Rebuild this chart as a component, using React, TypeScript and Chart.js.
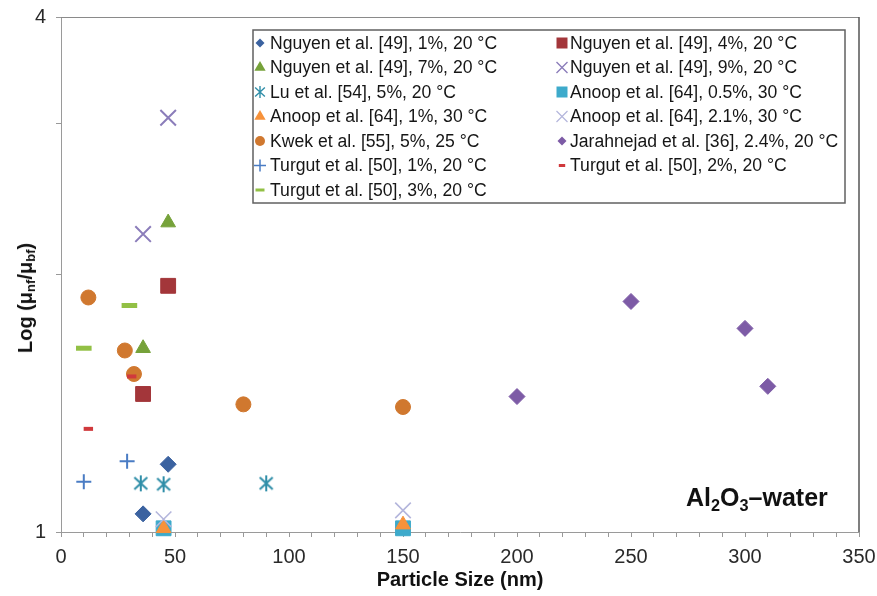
import React, { useEffect, useRef } from 'react';
import { Chart, registerables } from 'chart.js';

Chart.register(...registerables);

const FONT = '"Liberation Sans", Arial, Helvetica, sans-serif';

// ---- axis ranges / ticks ----
const X_MIN = 0;
const X_MAX = 350;
const X_MINOR_STEP = 10;
const X_LABEL_EVERY = 50;
const Y_MIN = 1;
const Y_MAX = 4;
const Y_TICKS = [1, 2, 3, 4];
const Y_LABELED_TICKS = [1, 4];

// ---- series labels ----
const seriesLabels = [
  'Nguyen et al. [49], 1%, 20 °C',
  'Nguyen et al. [49], 4%, 20 °C',
  'Nguyen et al. [49], 7%, 20 °C',
  'Nguyen et al. [49], 9%, 20 °C',
  'Lu et al. [54], 5%, 20 °C',
  'Anoop et al. [64], 0.5%, 30 °C',
  'Anoop et al. [64], 1%, 30 °C',
  'Anoop et al. [64], 2.1%, 30 °C',
  'Kwek et al. [55], 5%, 25 °C',
  'Jarahnejad et al. [36], 2.4%, 20 °C',
  'Turgut et al. [50], 1%, 20 °C',
  'Turgut et al. [50], 2%, 20 °C',
  'Turgut et al. [50], 3%, 20 °C',
];

// ---- series values (particle size nm, viscosity ratio) ----
const nguyen1X = [36, 47];
const nguyen1Y = [1.05, 1.2];
const nguyen4X = [47, 36];
const nguyen4Y = [1.94, 1.45];
const nguyen7X = [47, 36];
const nguyen7Y = [2.3, 1.64];
const nguyen9X = [47, 36];
const nguyen9Y = [3.05, 2.23];
const luX = [35, 45, 90];
const luY = [1.14, 1.137, 1.14];
const anoop05X = [45, 150];
const anoop05Y = [1.01, 1.01];
const anoop1X = [45, 150];
const anoop1Y = [1.01, 1.02];
const anoop21X = [45, 150];
const anoop21Y = [1.035, 1.06];
const kwekX = [12, 28, 32, 80, 150];
const kwekY = [1.88, 1.63, 1.53, 1.41, 1.4];
const jarahX = [200, 250, 300, 310];
const jarahY = [1.44, 1.86, 1.73, 1.48];
const turgut1X = [10, 29];
const turgut1Y = [1.145, 1.21];
const turgut2X = [12, 31];
const turgut2Y = [1.32, 1.52];
const turgut3X = [10, 30];
const turgut3Y = [1.64, 1.84];

const seriesX = [nguyen1X, nguyen4X, nguyen7X, nguyen9X, luX, anoop05X, anoop1X, anoop21X, kwekX, jarahX, turgut1X, turgut2X, turgut3X];
const seriesY = [nguyen1Y, nguyen4Y, nguyen7Y, nguyen9Y, luY, anoop05Y, anoop1Y, anoop21Y, kwekY, jarahY, turgut1Y, turgut2Y, turgut3Y];

// ---- styles ----
type Kind = 'diamond' | 'square' | 'triangle' | 'x' | 'asterisk' | 'circle' | 'plus' | 'dash';
interface Sty { kind: Kind; color: string; size: number; lw?: number; lsize: number; llw?: number; }
const styles: Sty[] = [
  { kind: 'diamond', color: '#3B62A0', size: 8, lsize: 4.5 },
  { kind: 'square', color: '#A3363A', size: 10.5, lsize: 5.5 },
  { kind: 'triangle', color: '#76A23A', size: 8.5, lsize: 6.5 },
  { kind: 'x', color: '#8B7DBA', size: 11, lw: 2, lsize: 5.5, llw: 1.4 },
  { kind: 'asterisk', color: '#2F8EA8', size: 1, lw: 2, lsize: 0.75, llw: 1.4 },
  { kind: 'square', color: '#3DAACB', size: 10.5, lsize: 5.5 },
  { kind: 'triangle', color: '#F7923A', size: 8.5, lsize: 6.5 },
  { kind: 'x', color: '#B4B6DC', size: 11, lw: 1.6, lsize: 5.5, llw: 1.2 },
  { kind: 'circle', color: '#D0782F', size: 7.5, lsize: 5 },
  { kind: 'diamond', color: '#7D5BA6', size: 8, lsize: 4.5 },
  { kind: 'plus', color: '#4A7CC4', size: 7.5, lw: 2, lsize: 6, llw: 1.5 },
  { kind: 'dash', color: '#D0393C', size: 4.7, lw: 4, lsize: 3.2, llw: 3 },
  { kind: 'dash', color: '#92C045', size: 7.8, lw: 5, lsize: 4.5, llw: 3 },
];

function makeAsterisk(color: string, lw: number): HTMLCanvasElement {
  const c = document.createElement('canvas');
  c.width = 16;
  c.height = 18;
  const g = c.getContext('2d')!;
  g.strokeStyle = color;
  g.lineWidth = lw;
  g.lineCap = 'butt';
  const cx = 8, cy = 9;
  g.beginPath();
  g.moveTo(cx, cy - 8); g.lineTo(cx, cy + 8);
  g.moveTo(cx - 6.5, cy - 6); g.lineTo(cx + 6.5, cy + 6);
  g.moveTo(cx + 6.5, cy - 6); g.lineTo(cx - 6.5, cy + 6);
  g.stroke();
  return c;
}

function drawLegendMarker(ctx: CanvasRenderingContext2D, s: Sty, x: number, y: number) {
  const r = s.lsize;
  ctx.save();
  ctx.fillStyle = s.color;
  ctx.strokeStyle = s.color;
  ctx.lineWidth = s.llw || 1;
  ctx.beginPath();
  switch (s.kind) {
    case 'diamond':
      ctx.moveTo(x, y - r); ctx.lineTo(x + r, y); ctx.lineTo(x, y + r); ctx.lineTo(x - r, y); ctx.closePath(); ctx.fill();
      break;
    case 'square':
      ctx.rect(x - r, y - r, 2 * r, 2 * r); ctx.fill();
      break;
    case 'triangle':
      ctx.moveTo(x, y - r); ctx.lineTo(x + r * 0.866, y + r * 0.5); ctx.lineTo(x - r * 0.866, y + r * 0.5); ctx.closePath(); ctx.fill();
      break;
    case 'circle':
      ctx.arc(x, y, r, 0, Math.PI * 2); ctx.fill();
      break;
    case 'x':
      ctx.moveTo(x - r, y - r); ctx.lineTo(x + r, y + r); ctx.moveTo(x + r, y - r); ctx.lineTo(x - r, y + r); ctx.stroke();
      break;
    case 'plus':
      ctx.moveTo(x - r, y); ctx.lineTo(x + r, y); ctx.moveTo(x, y - r); ctx.lineTo(x, y + r); ctx.stroke();
      break;
    case 'asterisk': {
      const k = r;
      ctx.moveTo(x, y - 8 * k); ctx.lineTo(x, y + 8 * k);
      ctx.moveTo(x - 6.5 * k, y - 6 * k); ctx.lineTo(x + 6.5 * k, y + 6 * k);
      ctx.moveTo(x + 6.5 * k, y - 6 * k); ctx.lineTo(x - 6.5 * k, y + 6 * k);
      ctx.stroke();
      break;
    }
    case 'dash':
      ctx.rect(x - r, y - (s.llw || 3) / 2, 2 * r, s.llw || 3); ctx.fill();
      break;
  }
  ctx.restore();
}

const framePlugin = {
  id: 'frame',
  beforeDatasetsDraw(chart: any) {
    const { ctx, chartArea: a } = chart;
    ctx.save();
    ctx.lineWidth = 1;
    ctx.strokeStyle = '#8a8a8a';
    ctx.beginPath();
    ctx.moveTo(a.left, a.top + 0.5);
    ctx.lineTo(a.right, a.top + 0.5);
    ctx.stroke();
    ctx.strokeStyle = '#555';
    ctx.lineWidth = 1.5;
    ctx.beginPath();
    ctx.moveTo(a.right, a.top);
    ctx.lineTo(a.right, a.bottom);
    ctx.stroke();
    ctx.restore();
  },
};

const legendPlugin = {
  id: 'boxLegend',
  afterDraw(chart: any) {
    const ctx: CanvasRenderingContext2D = chart.ctx;
    const left = 253, top = 30, right = 845, bottom = 203;
    ctx.save();
    ctx.fillStyle = '#ffffff';
    ctx.fillRect(left, top, right - left, bottom - top);
    ctx.strokeStyle = '#606060';
    ctx.lineWidth = 1.5;
    ctx.strokeRect(left, top, right - left, bottom - top);
    ctx.font = '17.6px ' + FONT;
    ctx.textBaseline = 'middle';
    ctx.textAlign = 'left';
    seriesLabels.forEach((label, i) => {
      const col = i % 2;
      const row = Math.floor(i / 2);
      const y = 43 + row * 24.5;
      const mx = col ? 562 : 260;
      const tx = col ? 570 : 270;
      drawLegendMarker(ctx, styles[i], mx, y);
      ctx.fillStyle = '#161616';
      ctx.fillText(label, tx, y + 1);
    });
    ctx.restore();
  },
};

export default function App() {
  const ref = useRef<HTMLCanvasElement | null>(null);

  useEffect(() => {
    if (!ref.current) return;
    const datasets = seriesLabels.map((label, i) => {
      const s = styles[i];
      const data = seriesX[i].map((x, j) => ({ x, y: seriesY[i][j] }));
      const base: any = {
        label,
        data,
        order: -i,
        clip: false,
        backgroundColor: s.color,
        borderColor: s.color,
        borderWidth: 1,
        pointRadius: s.size,
        pointHoverRadius: s.size,
      };
      switch (s.kind) {
        case 'diamond': base.pointStyle = 'rectRot'; break;
        case 'square': base.pointStyle = 'rect'; break;
        case 'triangle': base.pointStyle = 'triangle'; break;
        case 'circle': base.pointStyle = 'circle'; break;
        case 'x': base.pointStyle = 'crossRot'; base.borderWidth = s.lw; break;
        case 'plus': base.pointStyle = 'cross'; base.borderWidth = s.lw; break;
        case 'dash': base.pointStyle = 'line'; base.borderWidth = s.lw; break;
        case 'asterisk': base.pointStyle = makeAsterisk(s.color, s.lw || 2); break;
      }
      return base;
    });

    const chart = new Chart(ref.current, {
      type: 'scatter',
      data: { datasets },
      plugins: [framePlugin, legendPlugin],
      options: {
        animation: false,
        responsive: false,
        maintainAspectRatio: false,
        layout: { padding: { top: 17, right: 18, left: 0, bottom: 0 } },
        plugins: { legend: { display: false }, tooltip: { enabled: false } },
        scales: {
          x: {
            type: 'linear',
            min: X_MIN,
            max: X_MAX,
            afterFit: (scale: any) => {
              scale.height = 64;
              scale.paddingLeft = 0;
              scale.paddingRight = 0;
            },
            grid: { display: true, drawOnChartArea: false, drawTicks: true, tickLength: 5, color: '#999' },
            border: { display: true, color: '#9a9a9a', width: 1 },
            ticks: {
              stepSize: X_MINOR_STEP,
              autoSkip: false,
              maxRotation: 0,
              padding: 8,
              color: '#2a2a2a',
              font: { size: 20, family: FONT },
              callback: (v: any) => (Number(v) % X_LABEL_EVERY === 0 ? String(v) : ''),
            },
            title: {
              display: true,
              text: 'Particle Size (nm)',
              color: '#111',
              font: { size: 20, weight: 'bold', family: FONT },
              padding: { top: 0, bottom: 4 },
            },
          },
          y: {
            type: 'logarithmic',
            min: Y_MIN,
            max: Y_MAX,
            afterBuildTicks: (scale: any) => {
              scale.ticks = Y_TICKS.map((v) => ({ value: v }));
            },
            afterFit: (scale: any) => {
              scale.width = 61;
              scale.paddingTop = 0;
              scale.paddingBottom = 0;
            },
            grid: { display: true, drawOnChartArea: false, drawTicks: true, tickLength: 5, color: '#999' },
            border: { display: true, color: '#9a9a9a', width: 1 },
            ticks: {
              autoSkip: false,
              padding: 10,
              color: '#2a2a2a',
              font: { size: 20, family: FONT },
              callback: (v: any) => (Y_LABELED_TICKS.includes(Number(v)) ? String(v) : ''),
            },
          },
        },
      } as any,
    });
    return () => chart.destroy();
  }, []);

  return (
    <div style={{ position: 'absolute', left: 0, top: 0, width: 877, height: 596, background: '#fff', overflow: 'hidden' }}>
      <canvas ref={ref} width={877} height={596} style={{ position: 'absolute', left: 0, top: 0, width: 877, height: 596 }} />
      <div
        style={{
          position: 'absolute',
          left: 25,
          top: 298,
          transform: 'translate(-50%, -50%) rotate(-90deg)',
          whiteSpace: 'nowrap',
          fontFamily: FONT,
          fontWeight: 'bold',
          fontSize: 20,
          color: '#111',
          lineHeight: '22px',
        }}
      >
        Log (μ<sub style={{ fontSize: '0.65em', verticalAlign: '-0.25em', lineHeight: 0 }}>nf</sub>/μ
        <sub style={{ fontSize: '0.65em', verticalAlign: '-0.25em', lineHeight: 0 }}>bf</sub>)
      </div>
      <div
        style={{
          position: 'absolute',
          left: 686,
          top: 485,
          whiteSpace: 'nowrap',
          fontFamily: FONT,
          fontWeight: 'bold',
          fontSize: 25,
          color: '#111',
          lineHeight: '25px',
        }}
      >
        Al<sub style={{ fontSize: '0.65em', verticalAlign: '-0.3em', lineHeight: 0 }}>2</sub>O
        <sub style={{ fontSize: '0.65em', verticalAlign: '-0.3em', lineHeight: 0 }}>3</sub>–water
      </div>
    </div>
  );
}
